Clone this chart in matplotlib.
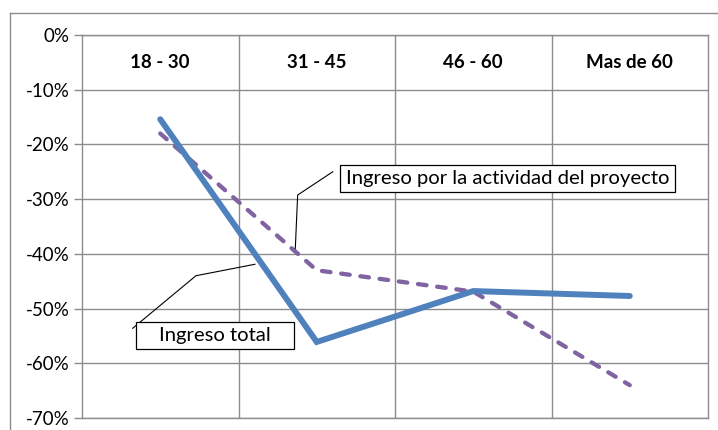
import matplotlib
matplotlib.use("Agg")
import matplotlib.pyplot as plt
from matplotlib.lines import Line2D
from matplotlib.patches import Rectangle
from matplotlib.ticker import FuncFormatter

plt.rcParams['font.family'] = ['Lato', 'DejaVu Sans']

categorias = ["18 - 30", "31 - 45", "46 - 60", "Mas de 60"]
ingreso_total = [-15.4, -56.1, -46.8, -47.7]
ingreso_actividad = [-18.0, -43.0, -46.9, -64.0]
y_ticks = [0, -10, -20, -30, -40, -50, -60, -70]

fig = plt.figure(figsize=(7.18, 4.30), dpi=100)
ax = fig.add_axes([82/718, 12/430, 626/718, 383/430])

grid_c = "#8c8c8c"
x = list(range(len(categorias)))

ax.plot(x, ingreso_actividad, color="#8064A2", lw=3.1, dashes=(2.0, 2.5),
        dash_capstyle="round", zorder=3)
ax.plot(x, ingreso_total, color="#4F81BD", lw=4.3, solid_capstyle="round",
        solid_joinstyle="miter", zorder=4)

ax.set_xlim(-0.5, len(categorias) - 0.5)
ax.set_ylim(-70, 0)
ax.set_yticks(y_ticks)
ax.yaxis.set_major_formatter(FuncFormatter(lambda v, p: f"{v:.0f}%"))
ax.tick_params(axis="y", length=6, width=1, color=grid_c, labelsize=13.5, pad=3)
ax.set_xticks([i + 0.5 for i in x[:-1]])
ax.tick_params(axis="x", length=0, labelbottom=False)
ax.grid(True, color=grid_c, lw=1)
for s in ax.spines.values():
    s.set_color(grid_c)
    s.set_linewidth(1)

# etiquetas de categoria arriba
for i, c in enumerate(categorias):
    ax.text(i, -5, c, ha="center", va="center", fontsize=13.5, fontweight="bold")

# etiquetas de las series con lineas guia
ax.plot([1.102, 0.878, 0.863], [-25.0, -29.25, -39.0], color="black", lw=0.8, zorder=5)
ax.add_patch(Rectangle((1.149, -28.7), 3.289 - 1.149, 4.9, fc="white", ec="black",
                       lw=0.9, zorder=6))
ax.text(2.219, -26.3, "Ingreso por la actividad del proyecto", ha="center", va="center",
        fontsize=14.6, zorder=7)
ax.plot([-0.176, 0.228, 0.605], [-53.6, -44.0, -41.9], color="black", lw=0.8, zorder=5)
ax.add_patch(Rectangle((-0.155, -57.45), 1.01, 4.95, fc="white", ec="black",
                       lw=0.9, zorder=6))
ax.text(0.350, -55.0, "Ingreso total", ha="center", va="center",
        fontsize=14.6, zorder=7)

# marco exterior
fig.add_artist(Line2D([10/718, 1.0], [1 - 13/430, 1 - 13/430], color=grid_c, lw=1))
fig.add_artist(Line2D([10/718, 10/718], [0, 1 - 13/430], color=grid_c, lw=1))

fig.savefig("out.png", dpi=100)
